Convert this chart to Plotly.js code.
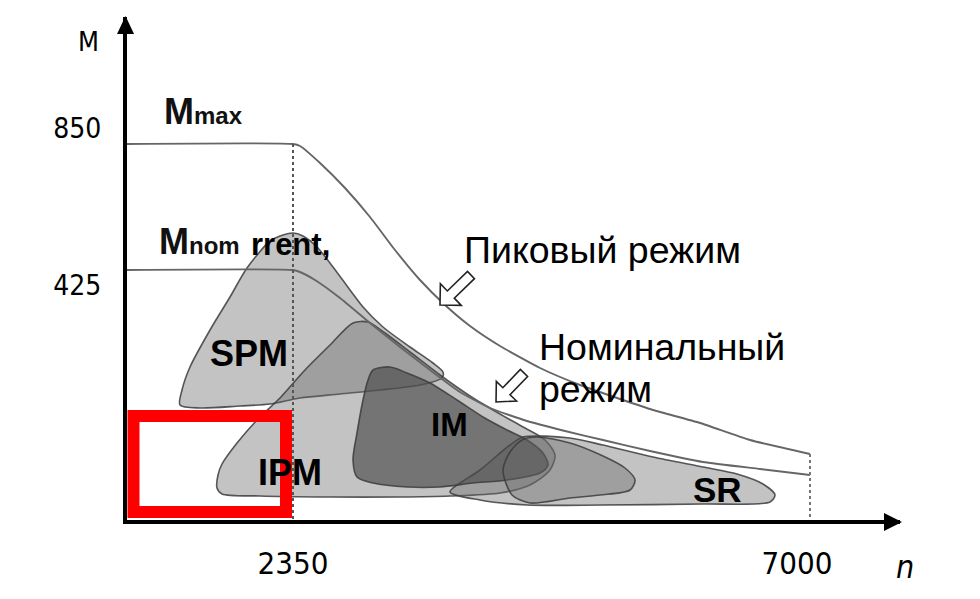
<!DOCTYPE html>
<html>
<head>
<meta charset="utf-8">
<script src="https://cdn.plot.ly/plotly-3.0.1.min.js"></script>
<style>html,body{margin:0;padding:0;background:#fff;}</style>
</head>
<body>
<div id="chart" style="width:980px;height:599px;"></div>
<script>
// Schematic diagram units: x to the right of the M axis, y above the n axis.
const xTickVals = [166, 670];
const xTickText = ['2350', '7000'];
const yTickVals = [392, 235];
const yTickText = ['850', '425'];

// Peak-mode (Mmax) boundary
const peakX = [0,166,173,193,218,243,268,293,318,343,373,413,453,493,526,573,623,683];
const peakY = [376,376,374,357,332,303,270,240,215,194,174,152,135,121,110,97,80,66];
// Nominal-mode (Mnom) boundary
const nomX = [0,166,173,188,213,243,273,303,333,363,400,438,476,523,576,633,683];
const nomY = [250,250,248,240,222,197,173,150,128,112,99,89,80,69,58,51,45];

// Reference verticals at 2350 and 7000
const ref2350X = [166,166], ref2350Y = [376,0];
const ref7000X = [683,683], ref7000Y = [66,0];

// Motor-type regions
const spmX = [166,153,143,120,103,83,63,55,53,73,113,143,173,213,253,293,315,316,306,283,256,236,223,206,190,176,166];
const spmY = [287,284,279,252,223,190,153,130,115,112,114,116,122,126,130,135,142,148,157,173,193,213,230,253,273,284,287];
const ipmX = [226,241,258,283,313,343,373,398,418,428,423,403,373,323,273,203,133,95,90,91,95,110,130,153,178,203,226];
const ipmY = [197,198,187,168,145,124,106,92,80,65,50,35,27,24,23,23,24,26,32,45,56,77,100,122,150,175,197];
const srX = [323,353,383,396,443,476,526,576,610,636,648,643,576,476,400,353,323];
const srY = [28,50,75,83,82,75,63,53,46,36,25,18,16,15,15,20,28];
const imX = [246,263,280,303,330,356,380,400,416,421,413,380,346,313,280,246,230,226,230,236,241,246];
const imY = [150,153,147,137,120,103,90,80,67,55,47,40,37,33,33,37,43,60,87,120,140,150];
const ovalX = [376,383,395,410,443,476,498,508,503,473,443,403,385,376];
const ovalY = [50,68,80,83,77,64,52,40,30,25,22,17,25,50];

const regionNames = ['SPM','IPM','IM','SR'];
const regionLabelX = [122,163,322,590];
const regionLabelY = [167,48,96,31];
const regionLabelSize = [36,36,33,35];

// ---------- geometry helpers (pixel -> paper) ----------
const L = 127, R = 80, T = 17, B = 79, W = 980, H = 599;
const PW = W - L - R, PH = H - T - B;
const px = x => (x - L) / PW;
const py = y => (H - B - y) / PH;

function hollowArrow(tip, tail, headHalf, headLen, shaftHalf) {
  const dx = tip[0] - tail[0], dy = tip[1] - tail[1];
  const len = Math.hypot(dx, dy);
  const ux = dx / len, uy = dy / len;
  const nx = -uy, ny = ux;
  const bx = tip[0] - ux * headLen, by = tip[1] - uy * headLen;
  const pts = [
    tip,
    [bx + nx * headHalf, by + ny * headHalf],
    [bx + nx * shaftHalf, by + ny * shaftHalf],
    [tail[0] + nx * shaftHalf, tail[1] + ny * shaftHalf],
    [tail[0] - nx * shaftHalf, tail[1] - ny * shaftHalf],
    [bx - nx * shaftHalf, by - ny * shaftHalf],
    [bx - nx * headHalf, by - ny * headHalf]
  ];
  return 'M ' + pts.map(p => px(p[0]).toFixed(4) + ' ' + py(p[1]).toFixed(4)).join(' L ') + ' Z';
}
function tri(a, b, c) {
  return 'M ' + [a, b, c].map(p => px(p[0]).toFixed(4) + ' ' + py(p[1]).toFixed(4)).join(' L ') + ' Z';
}

const blobFill = 'rgba(105,105,105,0.40)';
const edge = 'rgba(60,60,60,0.85)';

function blob(x, y, fill) {
  return {x, y, type: 'scatter', mode: 'lines', fill: 'toself', fillcolor: fill,
    line: {color: edge, width: 1.6, shape: 'spline', smoothing: 0.8},
    hoverinfo: 'skip', showlegend: false};
}
function curve(x, y, color, width, dash) {
  return {x, y, type: 'scatter', mode: 'lines',
    line: {color, width, dash: dash || 'solid', shape: dash ? 'linear' : 'spline', smoothing: 0.5},
    hoverinfo: 'skip', showlegend: false};
}

const traces = [
  blob(spmX, spmY, blobFill),
  blob(ipmX, ipmY, blobFill),
  blob(srX, srY, blobFill),
  blob(imX, imY, 'rgba(75,75,75,0.66)'),
  blob(ovalX, ovalY, 'rgba(105,105,105,0.40)'),
  curve(peakX, peakY, '#666', 1.9),
  curve(nomX, nomY, '#666', 1.9),
  curve(ref2350X, ref2350Y, '#555', 2, 'dot'),
  curve(ref7000X, ref7000Y, '#777', 2, 'dot')
];

const bodyFont = 'Liberation Sans, Arial, sans-serif';
const narrowFont = 'Liberation Sans Narrow, DejaVu Sans Condensed, sans-serif';

const annotations = [];
regionNames.forEach((n, i) => annotations.push({
  x: regionLabelX[i], y: regionLabelY[i], xref: 'x', yref: 'y', showarrow: false,
  text: '<b>' + n + '</b>', font: {family: bodyFont, size: regionLabelSize[i], color: '#000'}
}));
annotations.push(
  {x: 35, y: 409, xref: 'x', yref: 'y', xanchor: 'left', showarrow: false,
   text: '<b>M<span style="font-size:24px">max</span></b>', font: {family: bodyFont, size: 36, color: '#111'}},
  {x: 30, y: 279, xref: 'x', yref: 'y', xanchor: 'left', showarrow: false,
   text: '<b>M<span style="font-size:24px">nom</span></b>', font: {family: bodyFont, size: 36, color: '#111'}},
  {x: 122, y: 276, xref: 'x', yref: 'y', xanchor: 'left', showarrow: false,
   text: '<b>rrent,</b>', font: {family: bodyFont, size: 31, color: '#000'}},
  {x: 335, y: 270, xref: 'x', yref: 'y', xanchor: 'left', showarrow: false,
   text: 'Пиковый режим', font: {family: bodyFont, size: 37.5, color: '#000'}},
  {x: 410, y: 173, xref: 'x', yref: 'y', xanchor: 'left', showarrow: false,
   text: 'Номинальный', font: {family: bodyFont, size: 37.5, color: '#000'}},
  {x: 410, y: 131, xref: 'x', yref: 'y', xanchor: 'left', showarrow: false,
   text: 'режим', font: {family: bodyFont, size: 37.5, color: '#000'}},
  {x: px(88), y: py(41), xref: 'paper', yref: 'paper', xanchor: 'center', yanchor: 'middle', showarrow: false,
   text: 'M', font: {family: narrowFont, size: 27, color: '#000'}},
  {x: px(905), y: py(567), xref: 'paper', yref: 'paper', xanchor: 'center', yanchor: 'middle', showarrow: false,
   text: '<i>n</i>', font: {family: narrowFont, size: 32, color: '#000'}}
);

const shapes = [
  // axis arrowheads
  {type: 'path', xref: 'paper', yref: 'paper', path: tri([125.5,16],[117,34],[134,34]),
   fillcolor: '#000', line: {width: 0}},
  {type: 'path', xref: 'paper', yref: 'paper', path: tri([902,522],[884,513],[884,531]),
   fillcolor: '#000', line: {width: 0}},
  // hollow pointer arrows
  {type: 'path', xref: 'paper', yref: 'paper', path: hollowArrow([440,305],[471,275],15,15,5),
   fillcolor: '#fff', line: {color: '#222', width: 1.6}},
  {type: 'path', xref: 'paper', yref: 'paper', path: hollowArrow([496,402],[524,373],14,15,5),
   fillcolor: '#fff', line: {color: '#222', width: 1.6}},
  // red frame
  {type: 'rect', xref: 'paper', yref: 'paper', x0: px(133.5), x1: px(286), y0: py(416), y1: py(512),
   line: {color: '#ff0000', width: 12}, fillcolor: 'rgba(0,0,0,0)'}
];

const layout = {
  width: W, height: H,
  margin: {l: L, r: R, t: T, b: B, pad: 0},
  paper_bgcolor: '#fff', plot_bgcolor: '#fff',
  showlegend: false,
  xaxis: {range: [0, PW], showgrid: false, zeroline: false, showline: true, linecolor: '#000', linewidth: 4,
    tickmode: 'array', tickvals: xTickVals, ticktext: xTickText, ticks: '', ticklabelstandoff: 13,
    tickfont: {family: narrowFont, size: 31, color: '#000'}, fixedrange: true},
  yaxis: {range: [0, PH], showgrid: false, zeroline: false, showline: true, linecolor: '#000', linewidth: 4,
    tickmode: 'array', tickvals: yTickVals, ticktext: yTickText, ticks: '', ticklabelstandoff: 16,
    tickfont: {family: narrowFont, size: 28, color: '#000'}, fixedrange: true},
  annotations, shapes
};

Plotly.newPlot('chart', traces, layout, {displayModeBar: false, staticPlot: true});
</script>
</body>
</html>
